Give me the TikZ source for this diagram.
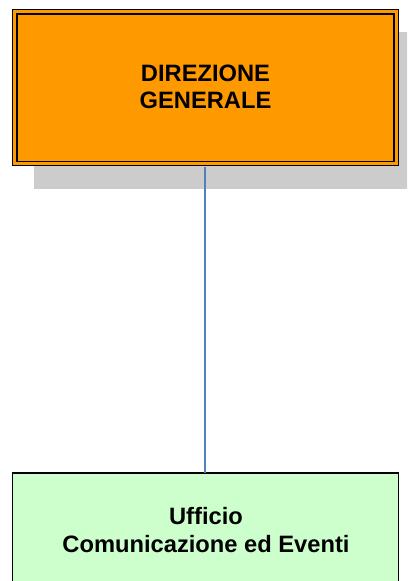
\documentclass[tikz,border=0pt]{standalone}
\usepackage{fontspec}
\setmainfont{Liberation Sans}
\definecolor{boxorange}{HTML}{FF9900}
\definecolor{boxgreen}{HTML}{CCFFCC}
\definecolor{shadowgray}{HTML}{CCCCCC}
\definecolor{linkblue}{HTML}{4F81BD}
\begin{document}
\begin{tikzpicture}[x=1pt,y=-1pt,
  boxtext/.style={font=\fontsize{23.7}{27.5}\selectfont\bfseries, align=center, text=black},
  link/.style={draw=linkblue, line width=1.3pt}]
\useasboundingbox (0,0) rectangle (407,581);
\begin{scope}
\clip (0,0) rectangle (407,581);
% shadow
\fill[shadowgray] (34,32) rectangle (421,189);
% top box
\fill[boxorange] (12,9) rectangle (399,166);
\draw[line width=1.6pt, black] (12.5,9.5) rectangle (398.5,165.5);
\draw[line width=1.4pt, black] (17,14) rectangle (394,161.5);
\node[boxtext] (dg) at (205.5,87) {DIREZIONE\\GENERALE};
\coordinate (dgb) at (205,166.5);
% bottom box
\filldraw[fill=boxgreen, draw=black, line width=1.6pt] (12.5,473) rectangle (398.5,600);
\node[boxtext] (uff) at (206,530) {Ufficio\\Comunicazione ed Eventi};
\coordinate (uft) at (205,472.5);
\draw[link] (dgb) -- (uft);
\end{scope}
\end{tikzpicture}
\end{document}
